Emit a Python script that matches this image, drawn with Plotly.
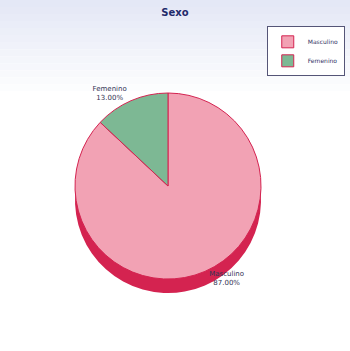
import plotly.graph_objects as go

categories = ["Masculino", "Femenino"]
values = [87.0, 13.0]
top_colors = ["#F2A2B4", "#7DB894"]
side_colors = ["#D42350", "#2E8A5A"]

fig = go.Figure()

# depth (side) layer
fig.add_trace(go.Pie(
    labels=categories, values=values, sort=False, direction="clockwise", rotation=0,
    marker=dict(colors=side_colors, line=dict(width=0)),
    textinfo="none", hoverinfo="skip", showlegend=False,
    domain=dict(x=[0.16, 0.80], y=[0.165, 0.695]),
))

# top face
fig.add_trace(go.Pie(
    labels=categories, values=values, sort=False, direction="clockwise", rotation=0,
    marker=dict(colors=top_colors, line=dict(color="#D42350", width=1)),
    texttemplate="%{label}<br>%{percent:.2%}", textposition="outside",
    textfont=dict(size=7, color="#333355", family="DejaVu Sans"),
    domain=dict(x=[0.16, 0.80], y=[0.205, 0.735]),
))

shapes = []
n = 14
for i in range(n):
    t = i / (n - 1)
    r = int(0xE4 + (0xFF - 0xE4) * t)
    g = int(0xE8 + (0xFF - 0xE8) * t)
    b = int(0xF6 + (0xFF - 0xF6) * t)
    shapes.append(dict(type="rect", xref="paper", yref="paper", x0=0, x1=1,
                       y0=1 - 0.02 * (i + 1), y1=1 - 0.02 * i,
                       fillcolor=f"rgb({r},{g},{b})",
                       line=dict(width=0), layer="below"))

fig.update_layout(
    width=350, height=351,
    margin=dict(l=0, r=0, t=0, b=0),
    paper_bgcolor="white",
    title=dict(text="<b>Sexo</b>", x=0.5, xanchor="center", y=0.965, yanchor="middle",
               font=dict(size=10, color="#1F2A6B", family="DejaVu Sans")),
    legend=dict(x=0.985, y=0.925, xanchor="right", yanchor="top",
                bgcolor="white", bordercolor="#555577", borderwidth=1,
                font=dict(size=6, color="#333366", family="DejaVu Sans"),
                itemwidth=30, tracegroupgap=0),
    shapes=shapes,
)

fig.write_html("out.html")
